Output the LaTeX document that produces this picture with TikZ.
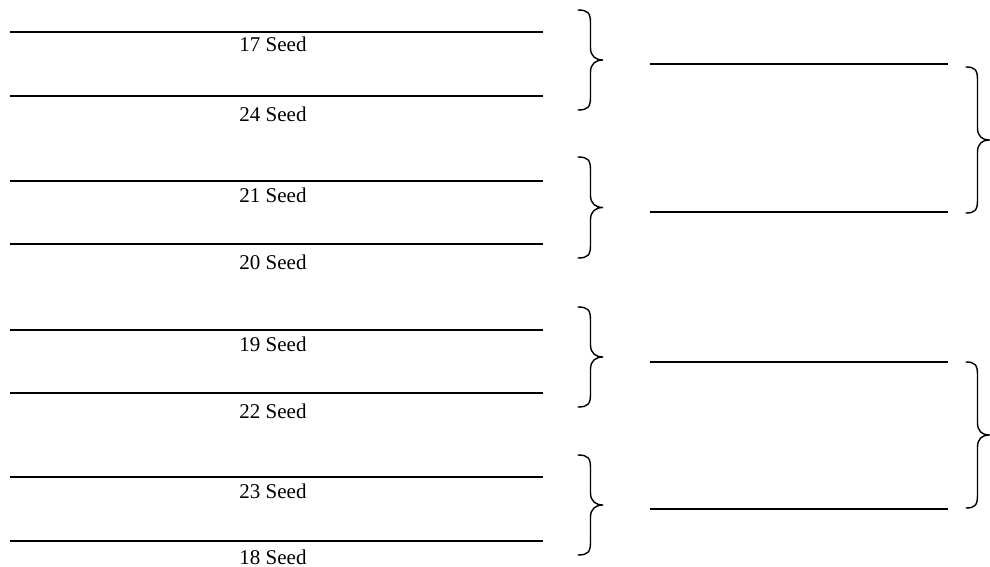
\documentclass[tikz,border=0pt]{standalone}
\usepackage{fontspec}
\setmainfont{Liberation Serif}
\begin{document}
\begin{tikzpicture}[x=1pt,y=-1pt,
  rule/.style={line width=2pt},
  lbl/.style={font=\fontsize{21}{24}\selectfont, anchor=base, inner sep=0pt},
  brc/.style={line width=1.4pt, line cap=round},
]
\useasboundingbox (0,0) rectangle (990,567);
% left rules
\foreach \i/\y in {1/32,2/96,3/181,4/244,5/330,6/393,7/477,8/541}{
  \coordinate (L\i a) at (10,\y);
  \coordinate (L\i b) at (543,\y);
  \draw[rule] (L\i a) -- (L\i b);
}
% labels
\node[lbl] (t1) at (273,52) {17 Seed};
\node[lbl] (t2) at (273,122) {24 Seed};
\node[lbl] (t3) at (273,202) {21 Seed};
\node[lbl] (t4) at (273,269) {20 Seed};
\node[lbl] (t5) at (273,351) {19 Seed};
\node[lbl] (t6) at (273,418) {22 Seed};
\node[lbl] (t7) at (273,498) {23 Seed};
\node[lbl] (t8) at (273,564) {18 Seed};
% braces: hook x, top y, bottom y, half width
\foreach \x/\ya/\yb/\w in {578/10/110/12.5, 578/157/258/12.5, 578/307/407/12.5, 578/455/555/12.5,
                           966/67/213/11.5, 966/362/508/11.5}{
  \pgfmathsetmacro\xv{\x+\w}
  \pgfmathsetmacro\xt{\x+2*\w}
  \pgfmathsetmacro\ym{(\ya+\yb)/2}
  \draw[brc] (\x,\ya) .. controls (\x+0.8*\w,\ya) and (\xv,\ya+3) .. (\xv,\ya+13)
    -- (\xv,\ym-12) .. controls (\xv,\ym-4) and (\xv+0.4*\w,\ym) .. (\xt,\ym)
    .. controls (\xv+0.4*\w,\ym) and (\xv,\ym+4) .. (\xv,\ym+12)
    -- (\xv,\yb-13) .. controls (\xv,\yb-3) and (\x+0.8*\w,\yb) .. (\x,\yb);
}
% right rules
\foreach \i/\y in {1/64,2/212,3/362,4/509}{
  \coordinate (R\i a) at (650,\y);
  \coordinate (R\i b) at (948,\y);
  \draw[rule] (R\i a) -- (R\i b);
}
\end{tikzpicture}
\end{document}
